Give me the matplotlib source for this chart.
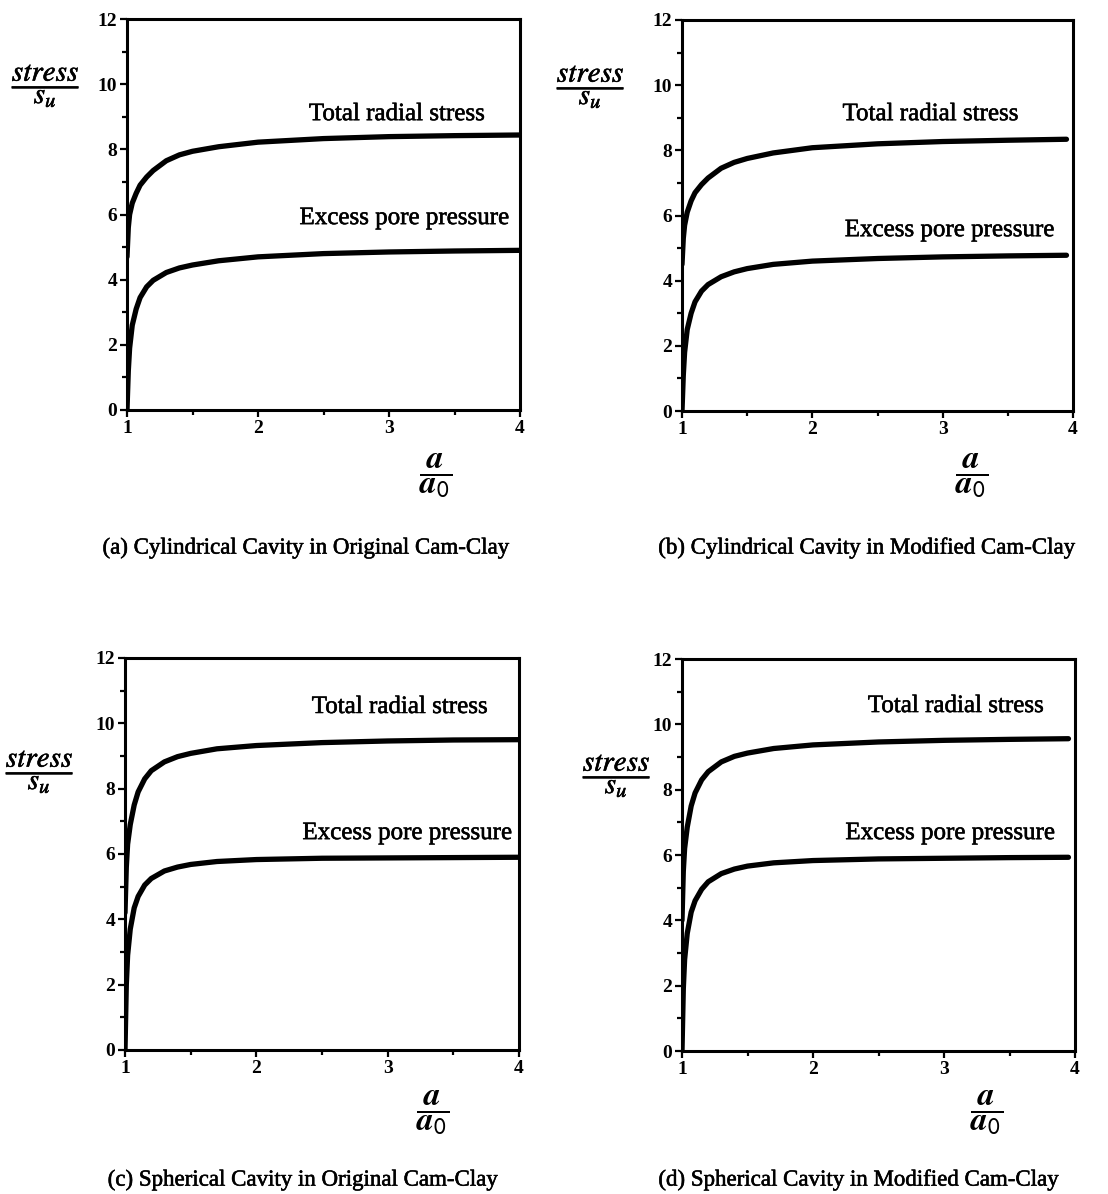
import numpy as np
import matplotlib
matplotlib.use('Agg')
import matplotlib.pyplot as plt
import matplotlib.patheffects as pe
from matplotlib.ticker import MultipleLocator

plt.rcParams['font.family'] = ['Liberation Serif', 'DejaVu Serif']
plt.rcParams['mathtext.fontset'] = 'stix'

# expansion ratio a/a0 at which the curves were read
ratio = [1.0, 1.01, 1.02, 1.04, 1.07, 1.1, 1.15, 1.2, 1.3, 1.4, 1.5, 1.7, 2.0, 2.5, 3.0, 3.5, 4.0]
ratio_mod = [1.0, 1.01, 1.02, 1.04, 1.07, 1.1, 1.15, 1.2, 1.3, 1.4, 1.5, 1.7, 2.0, 2.5, 3.0, 3.5, 3.95]

# normalised stresses stress/su
cyl_occ_total = [4.7, 5.6, 6.0, 6.35, 6.65, 6.9, 7.15, 7.35, 7.65, 7.83, 7.94, 8.08, 8.22, 8.33, 8.39, 8.42, 8.44]
cyl_occ_pore = [0.0, 1.2, 1.9, 2.6, 3.1, 3.45, 3.78, 3.98, 4.22, 4.36, 4.45, 4.58, 4.7, 4.8, 4.85, 4.88, 4.9]
cyl_mcc_total = [4.5, 5.3, 5.7, 6.1, 6.45, 6.7, 6.95, 7.15, 7.45, 7.63, 7.75, 7.92, 8.08, 8.2, 8.27, 8.31, 8.34]
cyl_mcc_pore = [0.0, 1.1, 1.8, 2.5, 3.0, 3.35, 3.68, 3.88, 4.12, 4.27, 4.37, 4.5, 4.6, 4.68, 4.73, 4.76, 4.78]
sph_occ_total = [4.2, 5.6, 6.3, 6.9, 7.5, 7.9, 8.3, 8.55, 8.82, 8.98, 9.08, 9.22, 9.32, 9.41, 9.46, 9.49, 9.5]
sph_occ_pore = [0.0, 2.0, 2.9, 3.7, 4.35, 4.7, 5.05, 5.25, 5.48, 5.6, 5.68, 5.77, 5.83, 5.87, 5.88, 5.89, 5.9]
sph_mcc_total = [4.0, 5.5, 6.2, 6.85, 7.5, 7.9, 8.3, 8.55, 8.85, 9.02, 9.12, 9.26, 9.37, 9.46, 9.51, 9.54, 9.56]
sph_mcc_pore = [0.0, 1.9, 2.8, 3.6, 4.25, 4.6, 4.95, 5.18, 5.43, 5.57, 5.66, 5.76, 5.83, 5.88, 5.9, 5.92, 5.93]

captions = ['(a) Cylindrical Cavity in Original Cam-Clay',
            '(b) Cylindrical Cavity in Modified Cam-Clay',
            '(c) Spherical Cavity in Original Cam-Clay',
            '(d) Spherical Cavity in Modified Cam-Clay']

W, H = 1108, 1194
fig = plt.figure(figsize=(W / 100, H / 100), dpi=100)

# slight stroke so the type looks as heavy as the printed page
heavy = [pe.withStroke(linewidth=0.4, foreground='black')]

def px(x, y):
    return x / W, 1 - y / H

panels = [
    # axes box in pixels (left, top, right, bottom), curves, label spots
    dict(box=(127, 19, 520, 410), x=ratio, tot=cyl_occ_total, pore=cyl_occ_pore,
         tot_txt=(3.73, 9.08), pore_txt=(3.92, 5.89),
         ylab=(46, 86), xlab=(436, 476), cap=(305, 548)),
    dict(box=(682, 20, 1073, 411), x=ratio_mod, tot=cyl_mcc_total, pore=cyl_mcc_pore,
         tot_txt=(3.58, 9.11), pore_txt=(3.86, 5.55),
         ylab=(591, 87), xlab=(972, 476), cap=(866, 548)),
    dict(box=(125, 658, 519, 1050), x=ratio, tot=sph_occ_total, pore=sph_occ_pore,
         tot_txt=(3.76, 10.5), pore_txt=(3.95, 6.64),
         ylab=(40, 772), xlab=(433, 1113), cap=(302, 1180)),
    dict(box=(682, 659, 1075, 1051), x=ratio_mod, tot=sph_mcc_total, pore=sph_mcc_pore,
         tot_txt=(3.76, 10.56), pore_txt=(3.85, 6.67),
         ylab=(617, 776), xlab=(987, 1113), cap=(858, 1180)),
]

for p, cap in zip(panels, captions):
    l, t, r, b = p['box']
    ax = fig.add_axes([l / W, 1 - b / H, (r - l) / W, (b - t) / H])
    ax.plot(p['x'], p['tot'], color='black', lw=3.8, solid_capstyle='round')
    ax.plot(p['x'], p['pore'], color='black', lw=3.8, solid_capstyle='round')
    ax.set_xlim(1, 4)
    ax.set_ylim(0, 12)
    ax.xaxis.set_major_locator(MultipleLocator(1))
    ax.xaxis.set_minor_locator(MultipleLocator(0.5))
    ax.yaxis.set_major_locator(MultipleLocator(2))
    ax.yaxis.set_minor_locator(MultipleLocator(1))
    ax.tick_params(which='both', direction='out', width=1.6, pad=2,
                   labelsize=14)
    ax.tick_params(which='major', length=5)
    ax.tick_params(which='minor', length=3.5)
    for lab in ax.get_xticklabels() + ax.get_yticklabels():
        lab.set_fontweight('bold')
    for s in ax.spines.values():
        s.set_linewidth(2.2)

    ax.text(*p['tot_txt'], 'Total radial stress', ha='right', va='center',
            fontsize=18, path_effects=heavy)
    ax.text(*p['pore_txt'], 'Excess pore pressure', ha='right', va='center',
            fontsize=18, path_effects=heavy)

    fig.text(*px(*p['ylab']), r'$\dfrac{stress}{s_u}$', ha='center', va='center',
             fontsize=21, path_effects=heavy)
    fig.text(*px(*p['xlab']), r'$\dfrac{\boldsymbol{a}}{\boldsymbol{a}_\mathsf{0}}$',
             ha='center', va='center', fontsize=24)
    fig.text(*px(*p['cap']), cap, ha='center', va='center', fontsize=16.5,
             path_effects=heavy)

fig.savefig('out.png', dpi=100)
